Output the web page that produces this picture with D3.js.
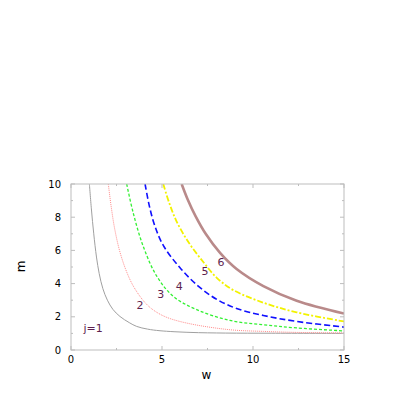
<!DOCTYPE html>
<html>
<head>
<meta charset="utf-8">
<script src="https://cdn.jsdelivr.net/npm/d3@7"></script>
<style>
  body { margin: 0; background: #fff; }
  text { font-family: 'DejaVu Sans', sans-serif; }
</style>
</head>
<body>
<div id="container"></div>
<script>
// values: [w, m]
const curveJ1 = [[1.01, 10], [1.12, 8.5], [1.25, 7], [1.4, 5.6], [1.55, 4.6], [1.75, 3.7], [2.0, 3.0], [2.3, 2.45], [2.69, 2.02], [3.2, 1.65], [3.61, 1.42], [4.2, 1.26], [4.89, 1.16], [6.54, 1.06], [8.5, 1.02], [11, 1.01], [15, 1.0]]
const curveJ2 = [[2.05, 10], [2.2, 8.7], [2.4, 7.3], [2.69, 5.9], [3.06, 4.7], [3.45, 3.8], [4.07, 2.85], [4.6, 2.35], [5.3, 1.95], [6.54, 1.58], [8.74, 1.22], [10.57, 1.12], [12.4, 1.06], [15, 1.03]]
const curveJ3 = [[3.06, 10], [3.42, 8.25], [3.97, 6.24], [4.71, 4.45], [5.62, 3.23], [6.91, 2.43], [8.74, 1.78], [10.57, 1.52], [12.4, 1.33], [15, 1.15]]
const curveJ4 = [[4.07, 10], [4.3, 8.7], [4.6, 7.5], [5.07, 6.3], [5.99, 4.95], [6.99, 3.85], [8.01, 3.05], [9.1, 2.5], [10.57, 2.08], [12.4, 1.72], [15, 1.38]]
const curveJ5 = [[5.07, 10], [5.4, 8.85], [5.8, 7.75], [6.45, 6.5], [7.27, 5.3], [8.01, 4.35], [8.9, 3.62], [10.57, 2.85], [12.4, 2.27], [15, 1.72]]
const curveJ6 = [[6.08, 10], [6.4, 9.1], [6.85, 8.05], [7.4, 7.0], [8.19, 5.85], [9.1, 4.88], [10.57, 3.85], [12.4, 2.97], [15, 2.2]]

const curveLabels = ['j=1', '2', '3', '4', '5', '6']
const labelPos = [[0.68, 1.33], [3.79, 2.73], [4.93, 3.37], [5.95, 3.87], [7.36, 4.73], [8.24, 5.28]]

const xTicks = [0, 5, 10, 15]
const xMinorTicks = [2.5, 7.5, 12.5]
const yTicks = [0, 2, 4, 6, 8, 10]
const yMinorTicks = [1, 3, 5, 7, 9]

const series = [
  { data: curveJ1, color: '#a0a0a0', width: 1, dash: null },
  { data: curveJ2, color: '#ff8a8a', width: 1, dash: '1,1' },
  { data: curveJ3, color: '#33f033', width: 1.3, dash: '3,2' },
  { data: curveJ4, color: '#1010ff', width: 1.6, dash: '6,3' },
  { data: curveJ5, color: '#f2f200', width: 1.8, dash: '6,2,2,2' },
  { data: curveJ6, color: '#b98a8a', width: 2.6, dash: null }
]

const margin = { top: 184, left: 71 }
const width = 273
const height = 166

const svg = d3.select('#container')
  .append('svg')
  .attr('width', 415)
  .attr('height', 395)

const g = svg.append('g')
  .attr('transform', `translate(${margin.left},${margin.top})`)

const xScale = d3.scaleLinear().domain([0, 15]).range([0, width])
const yScale = d3.scaleLinear().domain([0, 10]).range([height, 0])

g.append('defs').append('clipPath').attr('id', 'clip')
  .append('rect').attr('width', width).attr('height', height)

const line = d3.line()
  .x(d => xScale(d[0]))
  .y(d => yScale(d[1]))
  .curve(d3.curveCatmullRom.alpha(0.5))

const lines = g.append('g').attr('clip-path', 'url(#clip)')
series.forEach(s => {
  lines.append('path')
    .datum(s.data)
    .attr('fill', 'none')
    .attr('stroke', s.color)
    .attr('stroke-width', s.width)
    .attr('stroke-dasharray', s.dash)
    .attr('d', line)
})

// frame with inward ticks on all four sides
const frameColor = '#bdbdbd'
g.append('rect')
  .attr('width', width).attr('height', height)
  .attr('fill', 'none').attr('stroke', frameColor).attr('stroke-width', 1)

function xTickMarks (ticks, len) {
  ticks.forEach(t => {
    g.append('line').attr('x1', xScale(t)).attr('x2', xScale(t))
      .attr('y1', height).attr('y2', height - len)
      .attr('stroke', frameColor)
    g.append('line').attr('x1', xScale(t)).attr('x2', xScale(t))
      .attr('y1', 0).attr('y2', len)
      .attr('stroke', frameColor)
  })
}
function yTickMarks (ticks, len) {
  ticks.forEach(t => {
    g.append('line').attr('y1', yScale(t)).attr('y2', yScale(t))
      .attr('x1', 0).attr('x2', len)
      .attr('stroke', frameColor)
    g.append('line').attr('y1', yScale(t)).attr('y2', yScale(t))
      .attr('x1', width).attr('x2', width - len)
      .attr('stroke', frameColor)
  })
}
xTickMarks(xTicks, 4)
xTickMarks(xMinorTicks, 2)
yTickMarks(yTicks, 4)
yTickMarks(yMinorTicks, 2)

g.selectAll('.xlab')
  .data(xTicks)
  .enter().append('text')
  .attr('x', d => xScale(d))
  .attr('y', height + 13)
  .attr('text-anchor', 'middle')
  .attr('font-size', 10)
  .attr('fill', '#000')
  .text(d => d)

g.selectAll('.ylab')
  .data(yTicks)
  .enter().append('text')
  .attr('x', -10)
  .attr('y', d => yScale(d) + 3.6)
  .attr('text-anchor', 'end')
  .attr('font-size', 10)
  .attr('fill', '#000')
  .text(d => d)

g.append('text')
  .attr('x', xScale(7.5) - 1)
  .attr('y', height + 29)
  .attr('text-anchor', 'middle')
  .attr('font-size', 12)
  .text('w')

g.append('text')
  .attr('transform', `translate(${-50},${yScale(5) - 0.5}) rotate(-90)`)
  .attr('text-anchor', 'middle')
  .attr('dy', '0.35em')
  .attr('font-size', 12)
  .text('m')

g.selectAll('.clab')
  .data(curveLabels)
  .enter().append('text')
  .attr('x', (d, i) => xScale(labelPos[i][0]))
  .attr('y', (d, i) => yScale(labelPos[i][1]))
  .attr('dy', '0.36em')
  .attr('text-anchor', (d, i) => i === 0 ? 'start' : 'middle')
  .attr('font-size', 11)
  .attr('fill', '#5e1f4f')
  .text(d => d)
</script>
</body>
</html>
